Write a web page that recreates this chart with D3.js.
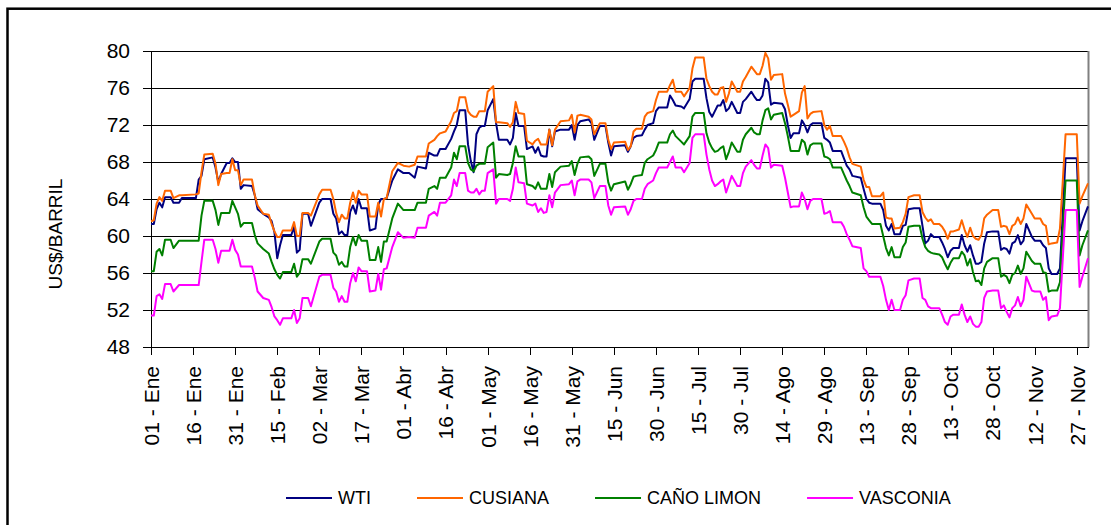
<!DOCTYPE html>
<html>
<head>
<meta charset="utf-8">
<title>Precios de crudos</title>
<style>
body {
  margin: 0;
  background: #fff;
  font-family: "Liberation Sans", Arial, sans-serif;
}
.axis path,
.axis line {
  fill: none;
  stroke: #000;
  shape-rendering: crispEdges;
}
.axis text {
  font-size: 21px;
  fill: #000;
}
.grid line {
  stroke: #000;
  shape-rendering: crispEdges;
}
.legend text {
  font-size: 18px;
  fill: #000;
}
</style>
</head>
<body>
<script src="https://d3js.org/d3.v7.min.js"></script>
<script>
var dates = [
  "2006-01-01","2006-01-02","2006-01-03","2006-01-04","2006-01-05","2006-01-06","2006-01-08","2006-01-09","2006-01-11","2006-01-12",
  "2006-01-17","2006-01-18","2006-01-19","2006-01-20","2006-01-23","2006-01-24","2006-01-25","2006-01-26","2006-01-28","2006-01-29",
  "2006-01-30","2006-01-31","2006-02-01","2006-02-02","2006-02-03","2006-02-06","2006-02-07","2006-02-08","2006-02-10","2006-02-12",
  "2006-02-13","2006-02-14","2006-02-15","2006-02-16","2006-02-17","2006-02-20","2006-02-21","2006-02-22","2006-02-23","2006-02-24",
  "2006-02-26","2006-02-27","2006-03-02","2006-03-03","2006-03-06","2006-03-07","2006-03-08","2006-03-09","2006-03-10","2006-03-11",
  "2006-03-12","2006-03-13","2006-03-14","2006-03-15","2006-03-16","2006-03-17","2006-03-19","2006-03-20","2006-03-22","2006-03-23",
  "2006-03-24","2006-03-25","2006-03-26",
  "2006-03-28","2006-03-30","2006-04-01","2006-04-03","2006-04-05","2006-04-06","2006-04-09","2006-04-10","2006-04-12","2006-04-13",
  "2006-04-14","2006-04-16","2006-04-18","2006-04-19","2006-04-20","2006-04-21","2006-04-23","2006-04-24","2006-04-25","2006-04-26",
  "2006-04-27","2006-04-28","2006-04-29","2006-04-30","2006-05-01","2006-05-03","2006-05-04","2006-05-05","2006-05-08","2006-05-09",
  "2006-05-10","2006-05-11","2006-05-12","2006-05-14","2006-05-15","2006-05-17","2006-05-18","2006-05-19","2006-05-20","2006-05-21",
  "2006-05-22","2006-05-23","2006-05-24","2006-05-25","2006-05-27","2006-05-30","2006-05-31","2006-06-01","2006-06-02","2006-06-03",
  "2006-06-06","2006-06-07","2006-06-08","2006-06-10","2006-06-12","2006-06-13","2006-06-14","2006-06-15","2006-06-19",
  "2006-06-20","2006-06-21","2006-06-22","2006-06-23","2006-06-25","2006-06-26","2006-06-27","2006-06-29","2006-06-30","2006-07-01",
  "2006-07-04","2006-07-05","2006-07-06","2006-07-07","2006-07-09","2006-07-10","2006-07-12","2006-07-13","2006-07-14","2006-07-17",
  "2006-07-18","2006-07-19","2006-07-20","2006-07-21","2006-07-22","2006-07-23","2006-07-24","2006-07-25","2006-07-26","2006-07-27",
  "2006-07-29","2006-07-30","2006-07-31","2006-08-01","2006-08-03","2006-08-04","2006-08-05","2006-08-06","2006-08-07","2006-08-08",
  "2006-08-09","2006-08-10","2006-08-11","2006-08-14","2006-08-15","2006-08-16","2006-08-17","2006-08-18","2006-08-20","2006-08-21",
  "2006-08-22","2006-08-23","2006-08-24","2006-08-25","2006-08-28","2006-08-29","2006-08-30","2006-08-31","2006-09-01","2006-09-04",
  "2006-09-05","2006-09-06","2006-09-07","2006-09-08","2006-09-11",
  "2006-09-12","2006-09-13","2006-09-14","2006-09-15","2006-09-18","2006-09-19","2006-09-20","2006-09-21","2006-09-22","2006-09-23",
  "2006-09-25","2006-09-26","2006-09-27","2006-09-28","2006-09-30","2006-10-02","2006-10-03","2006-10-04","2006-10-05","2006-10-06",
  "2006-10-07","2006-10-09","2006-10-10","2006-10-11","2006-10-12","2006-10-13","2006-10-14","2006-10-16","2006-10-17","2006-10-18",
  "2006-10-19","2006-10-20","2006-10-21","2006-10-22","2006-10-23","2006-10-24","2006-10-25","2006-10-26","2006-10-28","2006-10-30",
  "2006-10-31","2006-11-01","2006-11-02","2006-11-03","2006-11-04","2006-11-05","2006-11-06","2006-11-07","2006-11-08","2006-11-09",
  "2006-11-11","2006-11-12","2006-11-14","2006-11-15","2006-11-16","2006-11-17","2006-11-18","2006-11-20","2006-11-21","2006-11-23",
  "2006-11-27","2006-11-28","2006-11-29","2006-12-01"
];

var wti = [
  61.3,61.3,62.9,63.6,63.1,64.2,64.2,63.6,63.6,64.1,
  64.1,66.1,66.5,68.3,68.5,67.4,65.8,66.7,67.9,67.9,
  68.4,68.0,68.0,65.1,65.5,65.4,64.4,62.9,62.4,62.0,
  61.6,60.4,57.6,59.0,60.1,60.1,61.0,58.2,58.5,62.4,
  62.4,61.1,63.6,64.0,64.0,62.4,61.9,60.2,60.5,60.1,
  60.1,62.6,63.3,62.4,64.0,63.0,63.0,60.6,60.8,63.4,
  64.0,64.0,64.1,
  66.0,67.2,66.8,66.8,66.3,67.5,67.3,69.0,68.7,68.7,
  69.4,69.4,70.5,71.3,72.0,73.6,73.6,69.9,68.1,66.9,
  71.0,71.7,71.9,71.9,73.6,74.8,72.2,70.4,70.4,69.9,
  70.6,73.3,71.9,71.9,69.4,69.7,69.0,69.6,68.7,68.6,
  68.6,71.5,69.7,71.3,71.5,71.5,72.0,70.4,72.0,72.4,
  72.6,72.2,70.4,71.9,71.9,70.1,68.7,69.7,69.8,
  69.1,69.7,70.6,70.8,70.9,71.5,72.0,72.2,73.5,73.9,
  73.9,75.2,74.7,74.1,74.0,73.8,74.8,76.7,77.0,77.0,
  74.9,73.4,72.9,73.5,74.1,74.1,74.7,73.5,73.8,74.5,
  73.3,73.3,74.5,74.8,75.6,75.1,74.7,74.7,75.2,77.0,
  76.6,74.2,74.4,74.3,73.7,72.0,70.6,71.1,71.1,72.5,
  72.0,71.2,72.0,72.2,72.2,70.6,70.4,70.1,69.2,69.2,
  68.4,67.6,67.2,66.5,66.3,
  65.1,64.0,63.6,63.5,63.5,62.8,61.1,60.6,61.3,60.2,
  60.2,61.1,61.2,62.9,63.0,63.0,61.1,59.2,59.5,60.2,
  59.9,59.9,59.3,58.6,57.7,58.4,58.7,58.7,60.1,59.0,
  58.3,59.0,57.9,57.0,57.0,57.2,59.2,60.4,60.5,60.5,
  58.5,58.7,58.6,58.1,59.2,59.4,60.1,59.1,59.5,61.3,
  59.9,59.5,59.5,59.0,58.7,56.5,55.9,55.9,56.5,68.4,
  68.4,60.6,61.6,63.2
];

var cusiana = [
  61.6,61.7,63.5,64.2,63.8,64.9,64.9,64.1,64.4,64.4,
  64.5,64.6,66.9,68.8,68.9,67.8,65.5,66.7,66.8,66.8,
  68.3,67.1,67.1,65.5,66.1,66.1,64.4,63.3,62.4,62.3,
  61.3,60.5,59.9,59.9,60.6,60.6,61.5,60.0,60.0,62.5,
  62.5,62.2,64.5,65.0,65.0,64.0,62.5,61.5,62.3,61.9,
  61.9,63.6,64.7,63.6,64.9,64.5,64.5,62.1,62.1,63.6,
  62.1,64.0,64.1,
  67.0,67.9,67.6,67.5,67.7,68.6,68.6,70.0,70.4,70.8,
  71.1,71.3,72.4,73.3,73.5,75.0,75.0,73.5,73.1,72.9,
  72.9,73.5,73.5,73.5,75.6,76.2,72.3,72.3,72.2,71.8,
  72.3,74.5,73.3,73.2,70.3,69.9,70.3,70.5,69.9,69.9,
  69.9,71.5,69.8,71.5,72.4,72.5,73.1,71.2,73.0,73.1,
  72.9,72.6,71.0,72.2,72.2,70.4,69.4,70.1,70.2,
  69.3,69.7,71.3,71.6,71.6,72.9,73.3,73.5,74.7,75.6,
  75.6,76.3,76.9,75.6,75.6,75.1,76.0,78.1,79.3,79.3,
  77.0,76.2,75.6,75.3,75.3,76.0,76.1,74.5,75.4,76.7,
  75.6,75.6,76.7,77.2,78.3,77.9,77.5,77.5,78.4,79.8,
  79.2,76.9,77.4,77.5,75.4,74.2,72.9,73.1,73.5,75.5,
  76.2,72.7,73.2,73.4,73.5,72.0,71.5,71.9,70.8,70.8,
  70.2,69.5,68.5,67.8,67.5,
  66.1,65.3,65.3,64.3,64.3,64.7,62.0,61.9,61.9,60.8,
  60.9,61.5,62.4,64.2,64.4,64.4,62.6,62.0,61.6,61.8,
  61.3,61.3,61.0,60.5,59.7,60.5,60.5,60.7,61.7,60.7,
  59.9,60.9,60.0,59.7,59.6,60.1,61.9,62.3,62.8,62.8,
  61.0,61.1,61.0,60.2,61.1,61.3,62.0,61.3,61.9,63.4,
  62.4,61.9,61.9,61.3,61.1,59.1,59.2,59.3,60.8,71.0,
  71.0,63.5,64.3,65.7
];

var canoLimon = [
  56.2,56.2,58.3,58.6,57.9,59.6,59.6,58.7,59.5,59.5,
  59.5,59.5,62.2,63.8,63.8,62.8,61.2,62.5,62.5,62.5,
  63.8,63.1,62.4,61.0,61.4,61.4,60.1,59.2,58.6,58.1,
  57.2,56.4,55.8,55.4,56.1,56.1,57.0,55.6,56.0,57.5,
  57.5,57.0,59.4,59.7,59.7,58.2,57.9,56.9,57.2,56.7,
  56.7,58.8,59.9,59.0,60.1,59.5,59.5,57.4,57.4,58.8,
  57.2,59.4,59.4,
  61.9,63.5,62.8,62.8,62.8,63.6,63.6,65.1,65.4,65.1,
  66.3,66.3,67.4,69.0,68.3,69.7,69.7,67.9,67.2,67.0,
  67.6,67.8,67.8,67.8,69.6,70.1,66.3,66.7,66.6,66.7,
  67.9,69.7,68.6,68.6,65.6,65.4,65.1,65.8,65.1,65.1,
  65.1,66.7,65.3,66.9,67.5,67.6,68.1,66.6,67.8,68.5,
  68.6,68.3,66.5,67.8,67.8,65.8,64.9,65.6,65.9,
  65.0,65.6,66.4,66.5,66.6,67.9,68.3,68.7,69.3,70.1,
  70.1,71.0,71.4,70.8,70.2,69.9,70.8,72.9,73.3,73.3,
  71.1,70.1,69.5,69.1,69.2,69.5,69.7,68.3,69.1,70.1,
  69.1,69.1,70.4,71.0,71.7,71.2,71.0,71.0,72.5,73.6,
  73.8,72.6,73.1,73.3,72.2,70.8,69.2,69.2,69.2,70.4,
  70.1,68.8,69.8,70.0,70.0,68.6,68.5,68.3,67.4,67.4,
  66.7,66.0,65.4,64.7,64.4,
  63.1,62.1,61.7,61.3,61.3,60.0,58.7,57.9,58.8,57.7,
  57.7,58.8,59.3,61.0,61.1,61.1,59.7,58.8,58.4,58.2,
  58.1,58.0,57.7,57.0,56.4,57.1,57.6,57.6,58.3,57.9,
  56.8,57.5,56.1,55.1,55.2,54.7,56.5,57.2,57.6,57.6,
  55.6,55.8,55.6,54.9,55.8,56.0,56.8,55.9,56.5,58.3,
  57.3,57.0,57.0,56.1,56.0,54.0,54.1,54.1,55.0,66.0,
  66.0,57.9,59.0,60.6
];

var vasconia = [
  51.4,51.4,53.5,53.7,53.2,54.8,54.8,54.0,54.7,54.7,
  54.7,54.7,57.2,59.6,59.6,58.6,57.1,58.4,58.4,58.4,
  59.6,58.5,58.0,56.7,56.7,56.7,55.5,54.0,53.3,53.1,
  52.3,51.3,50.9,50.4,51.1,51.1,52.0,50.6,51.1,53.3,
  53.3,52.4,55.6,55.8,55.8,54.4,54.0,52.9,53.5,52.9,
  52.9,54.9,56.0,55.1,56.6,56.2,56.2,54.0,54.1,55.9,
  54.2,56.4,56.5,
  58.8,60.4,59.8,59.9,59.8,60.9,60.9,62.2,62.6,62.2,
  63.6,63.6,64.4,66.1,65.4,66.8,66.8,64.9,64.7,64.7,
  65.1,64.5,64.9,64.9,66.8,67.2,63.5,64.0,64.0,63.8,
  65.1,67.4,65.8,65.7,63.5,63.3,63.5,62.6,63.0,62.5,
  62.6,64.4,63.1,64.7,65.5,65.6,66.0,64.4,65.9,66.1,
  66.1,65.8,64.1,65.4,65.4,63.3,62.3,63.1,63.2,
  62.3,62.9,63.8,64.0,64.0,65.1,65.6,66.0,66.8,67.4,
  67.4,68.0,68.6,67.4,67.4,66.9,67.9,70.6,71.0,71.0,
  68.8,67.2,66.0,65.4,65.6,65.9,66.1,64.7,65.6,66.5,
  65.4,65.4,66.8,67.5,68.2,67.7,67.3,67.3,68.7,69.9,
  69.5,67.4,67.7,67.6,66.3,64.7,63.1,63.2,63.2,64.7,
  64.0,62.9,63.8,64.0,64.0,62.4,62.5,62.7,61.5,61.5,
  61.0,60.2,59.6,58.9,58.7,
  56.5,56.2,55.6,55.6,55.6,54.6,53.1,52.0,53.1,52.0,
  52.0,53.1,53.6,55.2,55.4,55.4,53.3,53.1,52.4,52.2,
  52.2,52.2,51.5,50.7,50.4,51.3,51.5,51.5,52.6,51.5,
  50.7,51.3,50.5,50.2,50.2,50.7,53.3,54.0,54.1,54.1,
  52.2,52.5,51.8,51.2,52.2,52.5,53.4,52.4,53.1,55.6,
  54.1,54.0,54.0,53.1,53.4,50.9,51.3,51.4,52.2,62.8,
  62.8,54.5,55.6,57.6
];

var seriesNames = ["WTI", "CUSIANA", "CAÑO LIMON", "VASCONIA"];
var seriesColors = ["#000080", "#FF6600", "#008000", "#FF00FF"];
var yTicks = [48, 52, 56, 60, 64, 68, 72, 76, 80];
var monthNames = ["Ene", "Feb", "Mar", "Abr", "May", "Jun", "Jul", "Ago", "Sep", "Oct", "Nov", "Dic"];
var yTitle = "US$/BARRIL";

var width = 1111, height = 525;
var plot = {left: 151, right: 1088, top: 51, bottom: 347};

var parseDate = d3.utcParse("%Y-%m-%d");
var days = dates.map(parseDate);
var series = [wti, cusiana, canoLimon, vasconia];

var x = d3.scaleUtc()
    .domain([parseDate("2006-01-01"), parseDate("2006-12-01")])
    .range([plot.left, plot.right]);

var y = d3.scaleLinear()
    .domain([48, 80])
    .range([plot.bottom, plot.top]);

var svg = d3.select("body").append("svg")
    .attr("width", width)
    .attr("height", height);

// outer chart frame (cut off at right and bottom in the original)
svg.append("rect")
    .attr("x", 7.5)
    .attr("y", 8.7)
    .attr("width", 1300)
    .attr("height", 700)
    .attr("fill", "none")
    .attr("stroke", "#000")
    .attr("stroke-width", 2.5);

svg.append("g")
    .attr("class", "grid")
  .selectAll("line")
    .data(yTicks)
  .enter().append("line")
    .attr("x1", plot.left)
    .attr("x2", plot.right)
    .attr("y1", function(d) { return y(d); })
    .attr("y2", function(d) { return y(d); });

svg.append("line")
    .attr("x1", plot.right + 0.5)
    .attr("x2", plot.right + 0.5)
    .attr("y1", plot.top)
    .attr("y2", plot.bottom)
    .attr("stroke", "#808080")
    .attr("stroke-width", 2);

svg.append("g")
    .attr("class", "y axis")
    .attr("transform", "translate(" + plot.left + ",0)")
    .call(d3.axisLeft(y).tickValues(yTicks).tickSize(8).tickSizeOuter(0).tickPadding(13));

var tickDays = d3.utcDay.range(x.domain()[0], x.domain()[1], 15);
var fmtDay = d3.utcFormat("%d");

var xAxis = svg.append("g")
    .attr("class", "x axis")
    .attr("transform", "translate(0," + plot.bottom + ")")
    .call(d3.axisBottom(x)
      .tickValues(tickDays)
      .tickSize(8)
      .tickSizeOuter(0)
      .tickFormat(function(d) { return fmtDay(d) + " - " + monthNames[d.getUTCMonth()]; }));

xAxis.selectAll("text")
    .attr("transform", "rotate(-90)")
    .attr("x", -19)
    .attr("y", 0)
    .attr("dy", "0.35em")
    .style("text-anchor", "end");

svg.append("text")
    .attr("transform", "translate(55,234) rotate(-90)")
    .attr("dy", "0.35em")
    .style("text-anchor", "middle")
    .style("font-size", "19px")
    .text(yTitle);

var line = d3.line()
    .x(function(d, i) { return x(days[i]); })
    .y(function(d) { return y(d); });

svg.selectAll(".series")
    .data(series)
  .enter().append("path")
    .attr("class", "series")
    .attr("fill", "none")
    .attr("stroke", function(d, i) { return seriesColors[i]; })
    .attr("stroke-width", 2)
    .attr("stroke-linejoin", "round")
    .attr("d", line);

var legend = svg.append("g").attr("class", "legend");
var lx = 286, ly = 498;
seriesNames.forEach(function(name, i) {
  legend.append("line")
      .attr("x1", lx)
      .attr("x2", lx + 46)
      .attr("y1", ly)
      .attr("y2", ly)
      .attr("stroke", seriesColors[i])
      .attr("stroke-width", 2);
  var t = legend.append("text")
      .attr("x", lx + 52)
      .attr("y", ly)
      .attr("dy", "0.35em")
      .text(name);
  lx += 52 + t.node().getComputedTextLength() + 46;
});
</script>
</body>
</html>
